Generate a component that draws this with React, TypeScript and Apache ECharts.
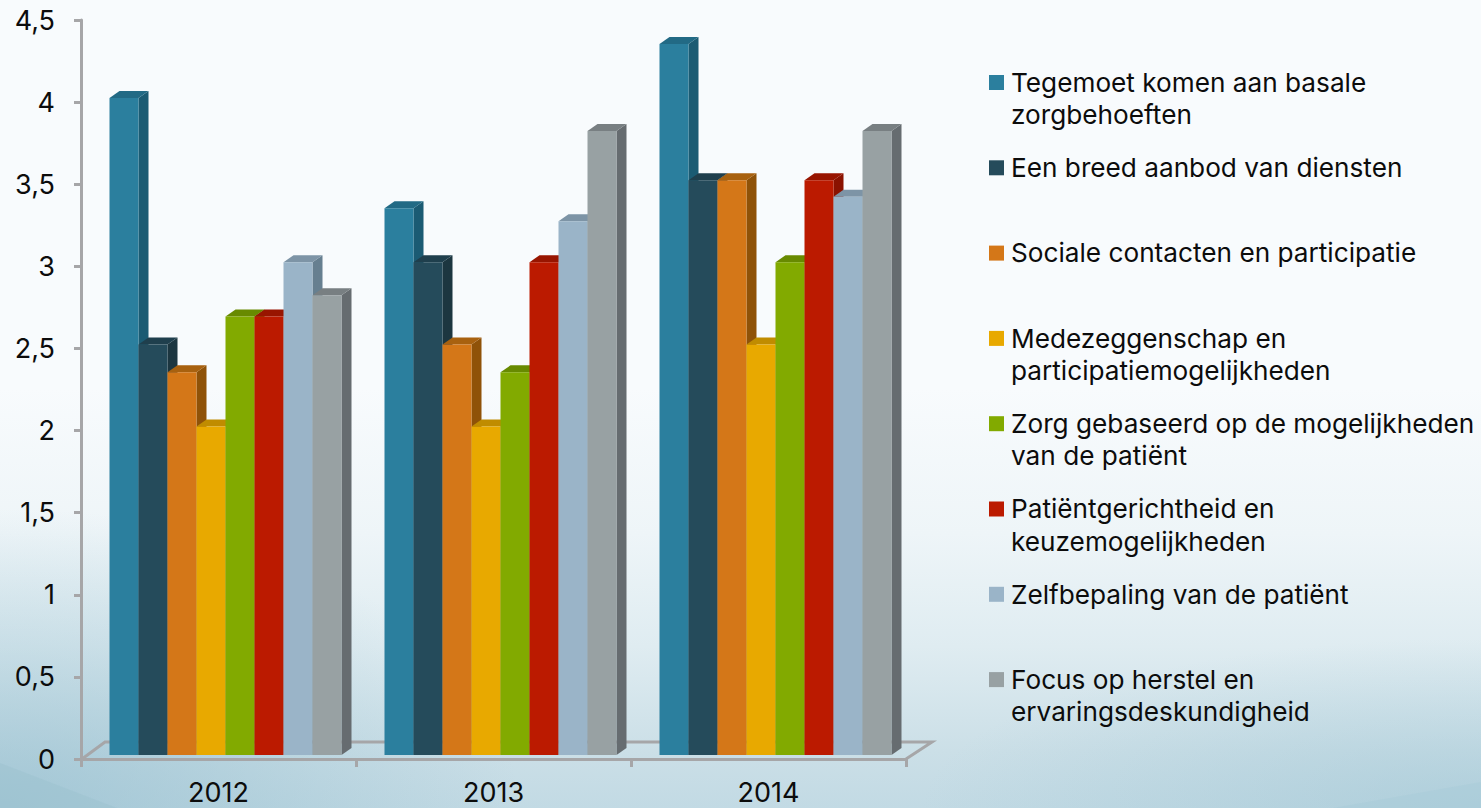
import React, { useEffect, useRef } from "react";
import * as echarts from "echarts";

const years = ["2012", "2013", "2014"];
const yTicks = { min: 0, max: 4.5, interval: 0.5 };

const labels = [
  "Tegemoet komen aan basale\nzorgbehoeften",
  "Een breed aanbod van diensten",
  "Sociale contacten en participatie",
  "Medezeggenschap en\nparticipatiemogelijkheden",
  "Zorg gebaseerd op de mogelijkheden\nvan de patiënt",
  "Patiëntgerichtheid en\nkeuzemogelijkheden",
  "Zelfbepaling van de patiënt",
  "Focus op herstel en\nervaringsdeskundigheid",
];

const basale = [4.0, 3.33, 4.33];
const aanbod = [2.5, 3.0, 3.5];
const sociaal = [2.33, 2.5, 3.5];
const inspraak = [2.0, 2.0, 2.5];
const mogelijkheden = [2.67, 2.33, 3.0];
const gericht = [2.67, 3.0, 3.5];
const zelfbepaling = [3.0, 3.25, 3.4];
const herstel = [2.8, 3.8, 3.8];
const values = [basale, aanbod, sociaal, inspraak, mogelijkheden, gericht, zelfbepaling, herstel];

const frontColors = ["#2b7f9e", "#254b5b", "#d47718", "#e8a900", "#82aa00", "#bb1a00", "#9ab4c8", "#98a1a3"];
const sideColors = ["#1b5b73", "#1c3640", "#8f5208", "#a47800", "#5e7c00", "#8a1200", "#667f90", "#666c70"];
const topColors = ["#226a85", "#1f3f4d", "#a8610f", "#c08c00", "#688a00", "#981500", "#7d94a6", "#787f82"];

const FONT = "Inter";
const BAR_W = 29;
const DEPTH_X = 10;
const DEPTH_Y = 7;
const LIFT = 4;
const GROUP_SHIFT = 7;

// Each bar is a front face with a side and a top, stacked left to right so later bars cover earlier sides.
function barRenderer(seriesPos: number) {
  return (_params: any, api: any) => {
    const cat = api.value(0);
    const [cx, base0] = api.coord([cat, 0]);
    const [, top0] = api.coord([cat, api.value(1)]);
    const x = cx + GROUP_SHIFT + (seriesPos - 4) * BAR_W;
    const base = base0 - LIFT;
    const top = top0 - LIFT;
    const r = x + BAR_W;
    return {
      type: "group",
      children: [
        {
          type: "polygon",
          shape: { points: [[r, top], [r + DEPTH_X, top - DEPTH_Y], [r + DEPTH_X, base - DEPTH_Y], [r, base]] },
          style: { fill: sideColors[seriesPos] },
        },
        {
          type: "polygon",
          shape: { points: [[x, top], [x + DEPTH_X, top - DEPTH_Y], [r + DEPTH_X, top - DEPTH_Y], [r, top]] },
          style: { fill: topColors[seriesPos] },
        },
        { type: "rect", shape: { x, y: top, width: BAR_W, height: base - top }, style: { fill: frontColors[seriesPos] } },
      ],
    };
  };
}

const SWATCH_X = 989;
const TEXT_X = 1011;
const LEGEND_TOP = 75;
const LEGEND_STEP = 85.3;

function legendGraphics() {
  const out: any[] = [];
  labels.forEach((label, i) => {
    const y = LEGEND_TOP + i * LEGEND_STEP;
    out.push({ type: "rect", shape: { x: SWATCH_X, y, width: 15, height: 15 }, style: { fill: frontColors[i] } });
    out.push({
      type: "text",
      x: TEXT_X,
      y: y - 9,
      style: { text: label, font: `26.2px ${FONT}`, lineHeight: 32.5, fill: "#0c0c0c", textAlign: "left", textVerticalAlign: "top" },
    });
  });
  return out;
}

export default function App() {
  const ref = useRef<HTMLDivElement>(null);
  useEffect(() => {
    const chart = echarts.init(ref.current!, undefined, { renderer: "svg" });
    const axisStroke = { color: "#a6a6a8", width: 3 };
    chart.setOption({
      animation: false,
      backgroundColor: "transparent",
      grid: { left: 81, right: 575, top: 20, bottom: 49, containLabel: false },
      xAxis: {
        type: "category",
        data: years,
        axisLine: { lineStyle: axisStroke },
        axisTick: { show: true, length: 8, lineStyle: axisStroke },
        axisLabel: { fontFamily: FONT, fontSize: 27, color: "#0c0c0c", margin: 20 },
        splitLine: { show: false },
      },
      yAxis: {
        type: "value",
        ...yTicks,
        axisLine: { show: true, lineStyle: axisStroke },
        axisTick: { show: true, length: 7, lineStyle: axisStroke },
        axisLabel: {
          fontFamily: FONT,
          fontSize: 27,
          color: "#0c0c0c",
          margin: 26,
          formatter: (v: number) => String(v).replace(".", ","),
        },
        splitLine: { show: false },
      },
      series: values.map((vals, i) => ({
        type: "custom",
        name: labels[i],
        coordinateSystem: "cartesian2d",
        data: vals.map((v, c) => [c, v]),
        encode: { x: 0, y: 1 },
        renderItem: barRenderer(i),
      })),
      graphic: [
        {
          type: "polyline",
          z: 0,
          shape: { points: [[82, 759], [105, 742], [932, 742], [906, 759]] },
          style: { stroke: "#a6a6a8", lineWidth: 3, fill: "none" },
        },
        ...legendGraphics(),
      ],
    });
    return () => chart.dispose();
  }, []);
  return (
    <div
      style={{
        position: "absolute",
        left: 0,
        top: 0,
        width: 1481,
        height: 808,
        overflow: "hidden",
        background:
          "radial-gradient(ellipse 520px 300px at 0px 808px, rgba(140,185,203,0.6) 0%, rgba(140,185,203,0) 100%), radial-gradient(ellipse 560px 170px at 1481px 808px, rgba(150,192,208,0.45) 0%, rgba(150,192,208,0) 100%), linear-gradient(180deg, #f8fbfd 0%, #f8fbfd 48%, #eef5f8 66%, #dfecf1 80%, #cbdfe7 93%, #c2dae4 100%)",
      }}
    >
      {/* Soft sweeps across the two bottom corners of the backdrop */}
      <div
        style={{
          position: "absolute",
          inset: 0,
          background: "#9cc0ce",
          clipPath: "polygon(0 763px, 117px 808px, 0 808px)",
          opacity: 0.45,
        }}
      />
      <div
        style={{
          position: "absolute",
          inset: 0,
          background: "#a9ccd8",
          clipPath: "polygon(1333px 808px, 1481px 782px, 1481px 808px)",
          opacity: 0.55,
        }}
      />
      <div ref={ref} style={{ position: "relative", width: 1481, height: 808 }} />
    </div>
  );
}
